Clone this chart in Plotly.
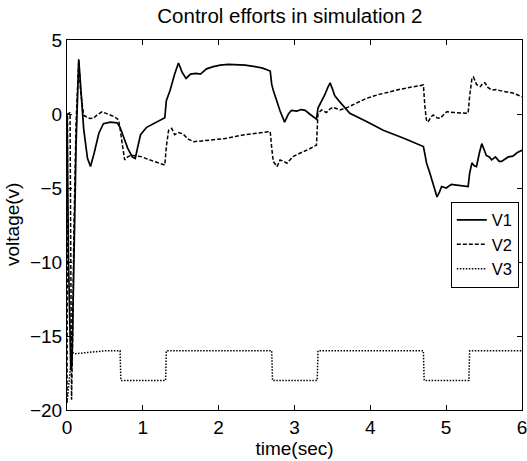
import plotly.graph_objects as go

# ---- data ----
t1 = [0.0, 0.02, 0.05, 0.065, 0.08, 0.10, 0.12, 0.155, 0.18, 0.22, 0.27, 0.31, 0.36, 0.42, 0.48,
      0.57, 0.66, 0.70, 0.75, 0.80, 0.86, 0.90, 0.93, 0.97, 1.05, 1.18, 1.29, 1.31, 1.36, 1.42,
      1.47, 1.52, 1.57, 1.63, 1.70, 1.76, 1.84, 1.93, 2.02, 2.13, 2.24, 2.35, 2.46, 2.58, 2.68,
      2.70, 2.72, 2.77, 2.81, 2.87, 2.92, 2.96, 3.03, 3.09, 3.14, 3.20, 3.25, 3.29, 3.31, 3.36,
      3.40, 3.44, 3.47, 3.50, 3.53, 3.60, 3.73, 3.95, 4.17, 4.45, 4.70, 4.72, 4.74, 4.78, 4.81,
      4.85, 4.88, 4.91, 4.94, 5.00, 5.07, 5.14, 5.22, 5.29, 5.31, 5.34, 5.37, 5.40, 5.44, 5.47,
      5.50, 5.53, 5.57, 5.60, 5.65, 5.70, 5.73, 5.78, 5.82, 5.88, 5.94, 6.0]
v1 = [0.0, -10.0, -17.3, -17.0, -13.0, -7.6, -2.0, 3.7, 2.0, -1.0, -3.0, -3.55, -2.6, -1.3, -0.65,
      -0.55, -0.6, -0.9, -1.6, -2.3, -2.9, -3.0, -2.3, -1.4, -0.9, -0.55, -0.25, 0.9, 1.6, 2.7,
      3.45, 2.8, 2.4, 2.7, 2.75, 2.7, 3.05, 3.2, 3.3, 3.35, 3.35, 3.3, 3.22, 3.1, 2.9,
      2.0, 1.6, 0.8, 0.2, -0.55, 0.0, 0.25, 0.2, 0.3, 0.25, 0.0, -0.2, -0.35, 0.4, 0.85,
      1.3, 1.8, 2.1, 1.7, 1.25, 0.8, 0.05, -0.5, -1.1, -1.65, -2.2, -2.7, -3.3, -3.9, -4.45,
      -5.2, -5.6, -5.3, -4.9, -5.0, -4.75, -4.8, -4.85, -4.9, -4.0, -3.3, -3.5, -3.55, -2.6, -2.0,
      -2.4, -2.8, -2.9, -3.1, -2.9, -3.2, -3.2, -3.0, -2.9, -2.85, -2.6, -2.45]

t2 = [0.0, 0.008, 0.04, 0.05, 0.06, 0.075, 0.09, 0.12, 0.155, 0.18, 0.22, 0.26, 0.30, 0.35, 0.40,
      0.46, 0.52, 0.57, 0.63, 0.68, 0.70, 0.72, 0.76, 0.80, 0.85, 0.92, 0.98, 1.06, 1.14, 1.22,
      1.29, 1.31, 1.34, 1.38, 1.42, 1.47, 1.53, 1.60, 1.67, 1.78, 1.89, 2.00, 2.11, 2.22, 2.32,
      2.50, 2.68, 2.70, 2.72, 2.77, 2.81, 2.86, 2.90, 2.94, 2.98, 3.05, 3.12, 3.20, 3.29, 3.31,
      3.36, 3.42, 3.47, 3.51, 3.56, 3.60, 3.70, 3.80, 3.95, 4.10, 4.25, 4.39, 4.55, 4.70, 4.72,
      4.74, 4.76, 4.80, 4.83, 4.88, 4.92, 4.97, 5.01, 5.10, 5.20, 5.29, 5.31, 5.34, 5.36, 5.40,
      5.45, 5.48, 5.51, 5.55, 5.60, 5.66, 5.71, 5.80, 5.89, 6.0]
v2 = [-19.5, 0.0, 0.1, -10.0, -19.3, -15.0, -8.0, -0.5, 3.6, 1.5, -0.1, -0.2, -0.3, -0.28, -0.05,
      0.15, 0.05, -0.07, -0.2, -0.4, -1.0, -1.8, -3.1, -2.9, -2.77, -2.85, -2.88, -3.05, -3.2, -3.35,
      -3.45, -2.2, -1.1, -0.97, -1.4, -1.25, -1.35, -1.7, -1.87, -1.82, -1.76, -1.7, -1.64, -1.52, -1.42,
      -1.3, -1.19, -2.3, -3.2, -3.56, -3.11, -3.2, -3.33, -3.1, -2.88, -2.7, -2.55, -2.35, -2.1, 0.05,
      0.27, 0.1, 0.35, 0.45, 0.35, 0.27, 0.45, 0.7, 1.06, 1.3, 1.5, 1.67, 1.82, 1.96, 0.5,
      -0.41, -0.55, -0.2, -0.07, -0.25, -0.29, -0.05, 0.16, 0.1, 0.08, 0.05, 1.2, 2.4, 2.5, 2.0,
      1.85, 2.05, 2.12, 1.8, 1.62, 1.65, 1.58, 1.5, 1.4, 1.17]

t3 = [0.0, 0.03, 0.066, 0.1, 0.2, 0.35, 0.5, 0.70, 0.71, 1.30, 1.31, 2.70, 2.71, 3.30, 3.31,
      4.70, 4.71, 5.30, 5.31, 6.0]
v3 = [-19.5, -18.0, -16.1, -16.2, -16.15, -16.05, -16.0, -16.0, -18.0, -18.0, -16.0, -16.0, -18.0,
      -18.0, -16.0, -16.0, -18.0, -18.0, -16.0, -16.0]

series_names = ["V1", "V2", "V3"]
x_ticks = [0, 1, 2, 3, 4, 5, 6]
y_ticks = [5, 0, -5, -10, -15, -20]

FONT = "Liberation Sans, Arial, sans-serif"

fig = go.Figure()
fig.add_trace(go.Scatter(x=t1, y=v1, mode="lines", name=series_names[0],
                         line=dict(color="black", width=1.7)))
fig.add_trace(go.Scatter(x=t2, y=v2, mode="lines", name=series_names[1],
                         line=dict(color="black", width=1.5, dash="4px,2px")))
fig.add_trace(go.Scatter(x=t3, y=v3, mode="lines", name=series_names[2],
                         line=dict(color="black", width=1.5, dash="1.5px,1.5px")))

axis_common = dict(showgrid=False, zeroline=False, showline=True, linecolor="black",
                   linewidth=1, mirror="allticks", ticks="inside", ticklen=5,
                   tickcolor="black", ticklabeloverflow="allow", automargin=False,
                   tickfont=dict(family=FONT, size=19, color="black"))

fig.update_xaxes(range=[0, 6.0005], tickvals=x_ticks,
                 title=dict(text="time(sec)", font=dict(family=FONT, size=19, color="black"), standoff=2),
                 **axis_common)
fig.update_yaxes(range=[-20, 5], tickvals=y_ticks, **axis_common)

fig.add_annotation(text="voltage(v)", textangle=-90, xref="paper", yref="paper",
                   x=0, y=0.5, xanchor="center", yanchor="middle", xshift=-55, showarrow=False,
                   font=dict(family=FONT, size=19, color="black"))

fig.update_layout(
    width=527, height=461,
    margin=dict(l=67, r=5, t=40, b=51, autoexpand=False),
    paper_bgcolor="white", plot_bgcolor="white",
    title=dict(text="Control efforts in simulation 2", x=0.55, xanchor="center",
               y=0.966, yanchor="middle",
               font=dict(family=FONT, size=20.5, color="black")),
    legend=dict(x=0.993, y=0.447, xanchor="right", yanchor="middle",
                bgcolor="white", bordercolor="black", borderwidth=1,
                font=dict(family=FONT, size=16.5, color="black"),
                itemwidth=30, tracegroupgap=0),
    showlegend=True,
)

fig.write_html("out.html")
